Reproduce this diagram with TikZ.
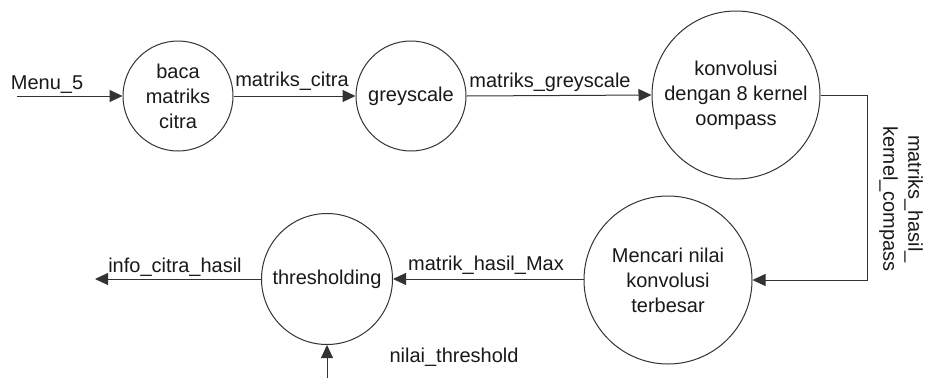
\documentclass[tikz,border=0pt]{standalone}
\usepackage{fontspec}
\setmainfont{Liberation Sans}
\usetikzlibrary{arrows.meta}
\definecolor{linec}{gray}{0.2}
\definecolor{txt}{gray}{0.1}
\begin{document}
\begin{tikzpicture}[x=1pt,y=-1pt,
  proc/.style={circle,draw=linec,line width=1pt,inner sep=0pt,align=center,
    font=\fontsize{20}{25}\selectfont,text=txt},
  flow/.style={draw=linec,line width=1pt,-{Triangle[length=13pt,width=12pt]}},
  lbl/.style={font=\fontsize{20}{25}\selectfont,text=txt,inner sep=0pt,anchor=base}]
\useasboundingbox (0,0) rectangle (926,378);
\fill[white] (0,0) rectangle (926,378);

% processes
\node[proc,minimum size=110pt] (baca) at (178,96) {baca\\matriks\\citra};
\node[proc,minimum size=110pt] (grey) at (411,96) {greyscale};
\node[proc,minimum size=168pt] (konv) at (736,95) {konvolusi\\dengan 8 kernel\\oompass};
\node[proc,minimum size=168pt] (menc) at (668,280) {Mencari nilai\\konvolusi\\terbesar};
\node[proc,minimum size=131pt] (thr) at (327,279) {thresholding};

% free ends
\coordinate (m0) at (17,96);
\coordinate (bend) at (867,95);
\coordinate (out) at (95,279);
\coordinate (th0) at (327,378);

% connectors
\draw[flow] (m0) -- (baca.west);
\draw[flow] (baca.east) -- (grey.west);
\draw[flow] (grey.east) -- (konv.west);
\draw[flow] (konv.east) -- (bend) |- (menc.east);
\draw[flow] (menc.west |- thr.east) -- (thr.east);
\draw[flow] (thr.west) -- (out);
\draw[flow] (th0) -- (thr.south);

% labels
\node[lbl] (lm5) at (47,89) {Menu\_5};
\node[lbl] (lmc) at (292,86) {matriks\_citra};
\node[lbl] (lmg) at (550,87) {matriks\_greyscale};
\node[font=\fontsize{20}{25}\selectfont,text=txt,inner sep=0pt,rotate=-90,align=center] (lmh) at (901,199) {matriks\_hasil\_\\kernel\_compass};
\node[lbl] (lmx) at (486,270) {matrik\_hasil\_Max};
\node[lbl] (lic) at (175,272) {info\_citra\_hasil};
\node[lbl] (lnt) at (454,362) {nilai\_threshold};
\end{tikzpicture}
\end{document}
